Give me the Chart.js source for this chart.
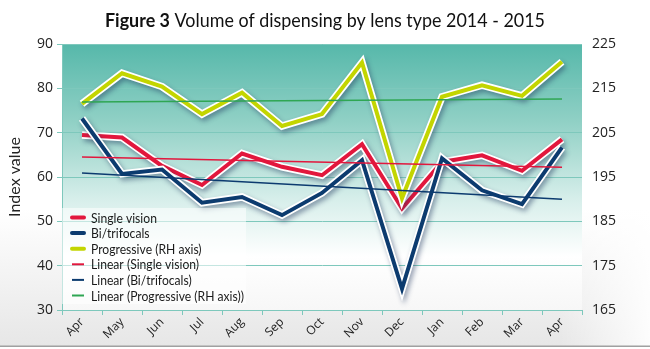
<!DOCTYPE html>
<html><head><meta charset="utf-8">
<script src="https://cdn.jsdelivr.net/npm/chart.js@4.4.1/dist/chart.umd.min.js"></script>
<style>html,body{margin:0;padding:0;background:#fff;overflow:hidden}#wrap{width:650px;height:349px;position:relative}</style>
</head><body><div id="wrap"><canvas id="c" width="650" height="349"></canvas></div>
<script>
// ---- data ----
const months = ['Apr','May','Jun','Jul','Aug','Sep','Oct','Nov','Dec','Jan','Feb','Mar','Apr'];
const singleVision = [69.5, 68.9, 62.5, 58.2, 65.3, 62.3, 60.4, 67.4, 52.9, 63.4, 64.9, 61.4, 68.5];
const bifocals     = [73.2, 60.7, 61.7, 54.2, 55.5, 51.4, 56.4, 63.8, 34.8, 64.2, 57.0, 53.9, 66.7];
const progressive  = [211.5, 218.4, 215.4, 209.2, 214.0, 206.5, 209.2, 220.8, 190.2, 213.1, 215.7, 213.3, 221.0];
const trendSingle  = [64.5, null, null, null, null, null, null, null, null, null, null, null, 62.2];
const trendBi      = [60.9, null, null, null, null, null, null, null, null, null, null, null, 55.0];
const trendProg    = [211.9, null, null, null, null, null, null, null, null, null, null, null, 212.6];
const leftTicks  = [30, 40, 50, 60, 70, 80, 90];
const rightTicks = [165, 175, 185, 195, 205, 215, 225];
const titleBold = 'Figure 3';
const titleRest = ' Volume of dispensing by lens type 2014 - 2015';
const yTitle = 'Index value';

const HUM = "Lato,'Open Sans',sans-serif";
const REG = "'Open Sans','Noto Sans',sans-serif";
const RED = '#e2173d', NAVY = '#0c3b6f', LIME = '#c3d500', GREEN = '#2fa653', TEAL = '#7ec8bc';

function line(label, data, color, axis, order, width, extra) {
  return Object.assign({ label, data, borderColor: color, backgroundColor: color, borderWidth: width,
    yAxisID: axis, order, pointRadius: 0, pointHoverRadius: 0, fill: false, tension: 0,
    borderJoinStyle: 'miter', borderCapStyle: 'butt', spanGaps: true }, extra || {});
}

const datasets = [
  line('Linear (Single vision)', trendSingle, RED, 'y', 1, 1.5),
  line('Linear (Bi/trifocals)', trendBi, NAVY, 'y', 2, 1.5),
  line('Linear (Progressive (RH axis))', trendProg, GREEN, 'y1', 3, 1.5),
  line('Progressive (RH axis)', progressive, LIME, 'y1', 4, 4),
  line('', progressive, '#ffffff', 'y1', 5, 7.5, { outline: true }),
  line('Bi/trifocals', bifocals, NAVY, 'y', 6, 4),
  line('', bifocals, '#ffffff', 'y', 7, 7.5, { outline: true }),
  line('Single vision', singleVision, RED, 'y', 8, 4),
  line('', singleVision, '#ffffff', 'y', 9, 7.5, { outline: true }),
];
const legendOrder = ['Single vision', 'Bi/trifocals', 'Progressive (RH axis)',
  'Linear (Single vision)', 'Linear (Bi/trifocals)', 'Linear (Progressive (RH axis))'];

function scaledText(ctx, txt, x, y, sx) {
  ctx.save(); ctx.translate(x, y); ctx.scale(sx, 1); ctx.fillText(txt, 0, 0); ctx.restore();
}

const bgPlugin = {
  id: 'bg',
  beforeDraw(chart) {
    const { ctx, chartArea: a, width, height } = chart;
    ctx.save();
    const g = ctx.createLinearGradient(0, 0, 0, height);
    g.addColorStop(0, '#ffffff'); g.addColorStop(0.6, '#ffffff'); g.addColorStop(1, '#e6e6e6');
    ctx.fillStyle = g; ctx.fillRect(0, 0, width, height);
    const g2 = ctx.createLinearGradient(560, 0, width, 0);
    g2.addColorStop(0, 'rgba(255,255,255,0)'); g2.addColorStop(1, 'rgba(255,255,255,0.9)');
    ctx.fillStyle = g2; ctx.fillRect(560, 0, width - 560, height);
    ctx.fillStyle = '#a0a0a0'; ctx.fillRect(0, 345.5, width, 1.5);
    ctx.fillStyle = '#ffffff'; ctx.fillRect(0, 347, width, 2);
    const pg = ctx.createLinearGradient(0, a.top, 0, a.bottom);
    pg.addColorStop(0, '#56b8aa'); pg.addColorStop(0.3, '#92d1c6'); pg.addColorStop(0.58, '#d6eeea');
    pg.addColorStop(0.8, '#ffffff'); pg.addColorStop(1, '#f7f7f7');
    ctx.fillStyle = pg; ctx.fillRect(a.left, a.top, a.right - a.left, a.bottom - a.top);
    // title, fitted to the reference's width
    ctx.fillStyle = '#111';
    ctx.textBaseline = 'alphabetic';
    ctx.font = `bold 19px ${HUM}`;
    const wb = ctx.measureText(titleBold).width;
    ctx.font = `19px ${HUM}`;
    const wr = ctx.measureText(titleRest).width;
    const sx = Math.min(1, 440 / (wb + wr));
    const x0 = width / 2 - (wb + wr) * sx / 2;
    ctx.font = `bold 19px ${HUM}`;
    scaledText(ctx, titleBold, x0, 27, sx);
    ctx.font = `19px ${HUM}`;
    scaledText(ctx, titleRest, x0 + wb * sx, 27, sx);
    ctx.restore();
  }
};

const shadowPlugin = {
  id: 'shadow',
  beforeDatasetDraw(chart, args) {
    if (chart.data.datasets[args.index].outline) {
      const c = chart.ctx; c.save();
      c.shadowColor = 'rgba(30,50,90,0.45)'; c.shadowBlur = 5; c.shadowOffsetX = 2; c.shadowOffsetY = 3;
    }
  },
  afterDatasetDraw(chart, args) {
    if (chart.data.datasets[args.index].outline) chart.ctx.restore();
  }
};

const legendPlugin = {
  id: 'inlegend',
  afterDatasetsDraw(chart) {
    const { ctx, chartArea: a } = chart;
    ctx.save();
    const top = a.bottom - 102;
    ctx.fillStyle = 'rgba(255,255,255,0.55)';
    ctx.fillRect(a.left, top, 184, 96);
    ctx.font = `14px ${HUM}`;
    ctx.textBaseline = 'middle';
    const maxW = Math.max(...legendOrder.map(l => ctx.measureText(l).width));
    const sx = Math.min(1, 153 / maxW);
    legendOrder.forEach((lab, i) => {
      const ds = chart.data.datasets.find(d => d.label === lab);
      const y = top + 9.5 + i * 15.6;
      ctx.strokeStyle = ds.borderColor;
      ctx.lineWidth = ds.borderWidth >= 3 ? 4 : 2;
      ctx.lineCap = ds.borderWidth >= 3 ? 'round' : 'butt';
      ctx.beginPath(); ctx.moveTo(a.left + 10, y); ctx.lineTo(a.left + 22, y); ctx.stroke();
      ctx.fillStyle = '#1a1a1a';
      scaledText(ctx, lab, a.left + 29, y + 0.5, sx);
    });
    ctx.restore();
  }
};

new Chart(document.getElementById('c'), {
  type: 'line',
  data: { labels: months, datasets },
  plugins: [bgPlugin, shadowPlugin, legendPlugin],
  options: {
    responsive: false, animation: false, devicePixelRatio: 1,
    layout: { padding: { top: 44, left: 0, right: 0, bottom: 0 } },
    plugins: { legend: { display: false }, tooltip: { enabled: false }, title: { display: false } },
    scales: {
      x: {
        type: 'category', offset: true,
        grid: { display: true, drawOnChartArea: false, color: TEAL, tickLength: 5, offset: true },
        border: { color: TEAL },
        ticks: { maxRotation: 45, minRotation: 45, autoSkip: false, padding: 0, color: '#222', font: { family: REG, size: 12 } },
        afterFit(s) { s.height = 39; }
      },
      y: {
        position: 'left', min: leftTicks[0], max: leftTicks[leftTicks.length - 1],
        afterBuildTicks(s) { s.ticks = leftTicks.map(v => ({ value: v })); },
        ticks: { color: '#222', padding: 4, font: { family: REG, size: 14 } },
        grid: { color: TEAL, lineWidth: 1, tickLength: 5 },
        border: { color: TEAL },
        title: { display: true, text: yTitle, color: '#222', font: { family: HUM, size: 16 }, padding: { top: 5, bottom: 0 } },
        afterFit(s) { s.width = 62; }
      },
      y1: {
        position: 'right', min: rightTicks[0], max: rightTicks[rightTicks.length - 1],
        afterBuildTicks(s) { s.ticks = rightTicks.map(v => ({ value: v })); },
        ticks: { color: '#222', padding: 10, font: { family: REG, size: 14 } },
        grid: { drawOnChartArea: false, drawTicks: false },
        border: { display: false },
        afterFit(s) { s.width = 68; }
      }
    }
  }
});
</script></body></html>
